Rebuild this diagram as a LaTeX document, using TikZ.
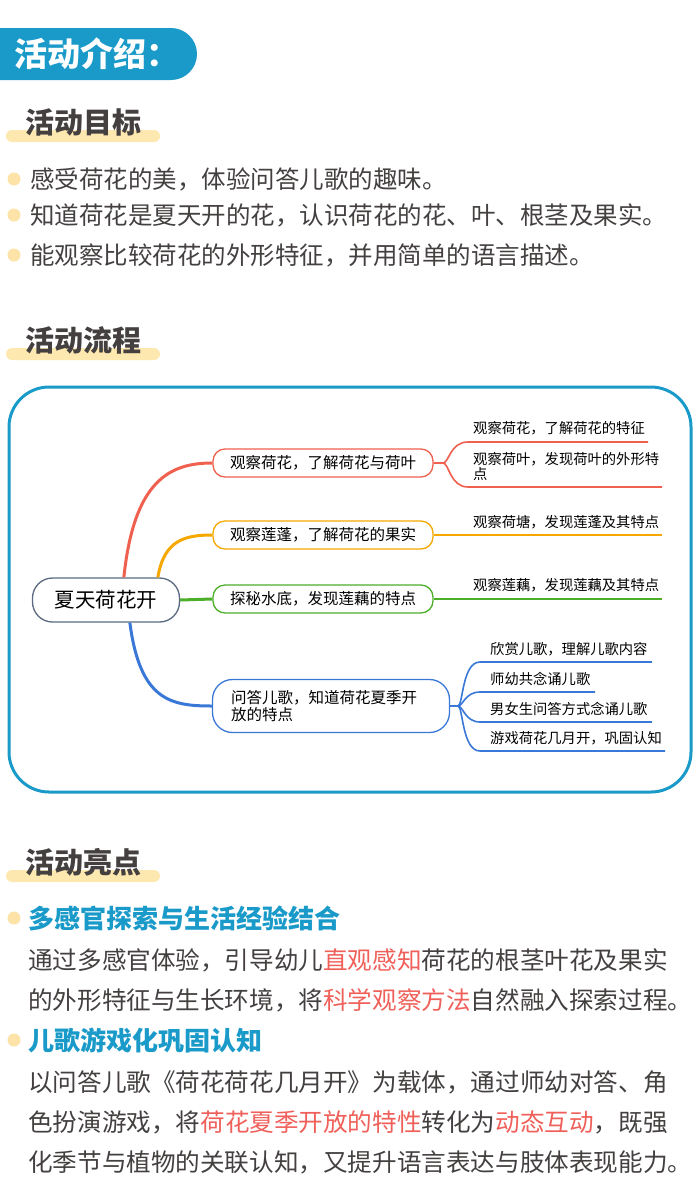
\documentclass[tikz,border=0pt]{standalone}
\usepackage{fontspec}
\setmainfont{Noto Sans CJK SC}
\definecolor{hblue}{HTML}{1A9AC9}
\definecolor{hyel}{HTML}{FDE8B0}
\definecolor{dot}{HTML}{FDE3A8}
\definecolor{txt}{HTML}{444040}
\definecolor{cred}{HTML}{F0604F}
\definecolor{corg}{HTML}{F5A800}
\definecolor{cgrn}{HTML}{4CAF2A}
\definecolor{cblu}{HTML}{3A78D8}
\definecolor{hl}{HTML}{F0605A}
\definecolor{rootc}{HTML}{5A6A80}
\begin{document}
\begin{tikzpicture}[x=1pt,y=-1pt,
  sect/.style={anchor=west,font=\fontsize{29}{32}\selectfont\bfseries,text=txt,inner sep=0},
  body/.style={anchor=west,font=\fontsize{24.6}{28}\selectfont,text=txt,inner sep=0},
  goal/.style={anchor=west,font=\fontsize{24.5}{28}\selectfont,text=txt,inner sep=0},
  br/.style={draw,rounded corners=12pt,line width=1.3pt,minimum width=220pt,minimum height=28pt,font=\fontsize{15.5}{19}\selectfont,text=black,align=left},
  leaf/.style={anchor=west,font=\fontsize{14.3}{17}\selectfont,text=black,inner sep=0,align=left},
  ln/.style={line width=1.6pt},
  thick/.style={line width=3pt}]
\useasboundingbox (0,0) rectangle (700,1200);
\fill[white] (0,0) rectangle (700,1200);
% header
\fill[hblue] (0,28) -- (171,28) arc[start angle=90,end angle=-90,radius=26pt] -- (0,80) -- cycle;
\node[anchor=west,text=white,font=\fontsize{33}{36}\selectfont\bfseries,inner sep=0] (hdr) at (14,54) {活动介绍：};
% section 1
\fill[hyel,rounded corners=6pt] (6,130) rectangle (160,142);
\node[sect] (s1) at (25,122) {活动目标};
\foreach \y/\t in {179/{感受荷花的美，体验问答儿歌的趣味。},215/{知道荷花是夏天开的花，认识荷花的花、叶、根茎及果实。},255/{能观察比较荷花的外形特征，并用简单的语言描述。}}{
  \fill[dot] (14,\y) circle (6.5pt);
  \node[goal] at (30,\y) {\t};
}
% section 2
\fill[hyel,rounded corners=6pt] (6,348) rectangle (160,360);
\node[sect] (s2) at (25,340) {活动流程};
\draw[hblue,line width=3pt,rounded corners=40pt] (9,387) rectangle (691,792);
% mind map
\node[draw=rootc,line width=1.3pt,rounded corners=20pt,minimum width=147pt,minimum height=44pt,font=\fontsize{20.5}{24}\selectfont] (root) at (106,600) {夏天荷花开};
\node[br,draw=cred] (b1) at (323,463) {观察荷花，了解荷花与荷叶};
\node[br,draw=corg] (b2) at (323,535) {观察莲蓬，了解荷花的果实};
\node[br,draw=cgrn] (b3) at (323,599) {探秘水底，发现莲藕的特点};
\node[br,draw=cblu,minimum width=237pt,minimum height=53pt,rounded corners=20pt,text width=200pt] (b4) at (331,706) {问答儿歌，知道荷花夏季开\\[-2pt]放的特点};
\draw[thick,cred] (root.north west)++(92,0) .. controls (134,480) and (170,463) .. (b1.west);
\draw[thick,corg] (root.north west)++(126,0) .. controls (164,540) and (185,535) .. (b2.west);
\draw[thick,cgrn] (root.east) -- (b3.west);
\draw[thick,cblu] (root.south west)++(98,0) .. controls (140,700) and (170,706) .. (b4.west);
% red leaves
\coordinate (r1) at (648,442); \coordinate (r2) at (662,487);
\draw[ln,cred] (b1.east) -- (443,463) .. controls (449,463) and (450,442) .. (468,442) -- (r1);
\draw[ln,cred] (443,463) .. controls (449,463) and (450,487) .. (468,487) -- (r2);
\node[leaf] at (473,428) {观察荷花，了解荷花的特征};
\node[leaf,text width=190pt] at (473,467) {观察荷叶，发现荷叶的外形特\\[-2pt]点};
\coordinate (o1) at (662,535); \draw[ln,corg] (b2.east) -- (o1);
\node[leaf] at (473,522) {观察荷塘，发现莲蓬及其特点};
\coordinate (g1) at (662,599); \draw[ln,cgrn] (b3.east) -- (g1);
\node[leaf] at (473,585) {观察莲藕，发现莲藕及其特点};
% blue leaves
\coordinate (k1) at (652,662); \coordinate (k2) at (595,692); \coordinate (k3) at (652,722); \coordinate (k4) at (665,751);
\draw[ln,cblu] (b4.east) -- (458,706);
\draw[ln,cblu] (458,706) .. controls (463,706) and (462,662) .. (480,662) -- (k1);
\draw[ln,cblu] (458,706) .. controls (463,706) and (465,692) .. (480,692) -- (k2);
\draw[ln,cblu] (458,706) .. controls (463,706) and (465,722) .. (480,722) -- (k3);
\draw[ln,cblu] (458,706) .. controls (463,706) and (462,751) .. (480,751) -- (k4);
\node[leaf] at (490,649) {欣赏儿歌，理解儿歌内容};
\node[leaf] at (490,679) {师幼共念诵儿歌};
\node[leaf] at (490,709) {男女生问答方式念诵儿歌};
\node[leaf] at (490,738) {游戏荷花几月开，巩固认知};
% section 3
\fill[hyel,rounded corners=6pt] (6,870) rectangle (160,882);
\node[sect] (s3) at (25,862) {活动亮点};
\fill[dot] (14,918) circle (6.5pt);
\node[anchor=west,inner sep=0,text=hblue,font=\fontsize{26}{30}\selectfont\bfseries] (h1) at (28,918) {多感官探索与生活经验结合};
\node[body] at (28,960) {通过多感官体验，引导幼儿\textcolor{hl}{直观感知}荷花的根茎叶花及果实};
\node[body] at (28,1000) {的外形特征与生长环境，将\textcolor{hl}{科学观察方法}自然融入探索过程。};
\fill[dot] (14,1040) circle (6.5pt);
\node[anchor=west,inner sep=0,text=hblue,font=\fontsize{26}{30}\selectfont\bfseries] (h2) at (28,1040) {儿歌游戏化巩固认知};
\node[body] at (28,1082) {以问答儿歌《荷花荷花几月开》为载体，通过师幼对答、角};
\node[body] at (28,1122) {色扮演游戏，将\textcolor{hl}{荷花夏季开放的特性}转化为\textcolor{hl}{动态互动}，既强};
\node[body] at (28,1162) {化季节与植物的关联认知，又提升语言表达与肢体表现能力。};
\end{tikzpicture}
\end{document}
